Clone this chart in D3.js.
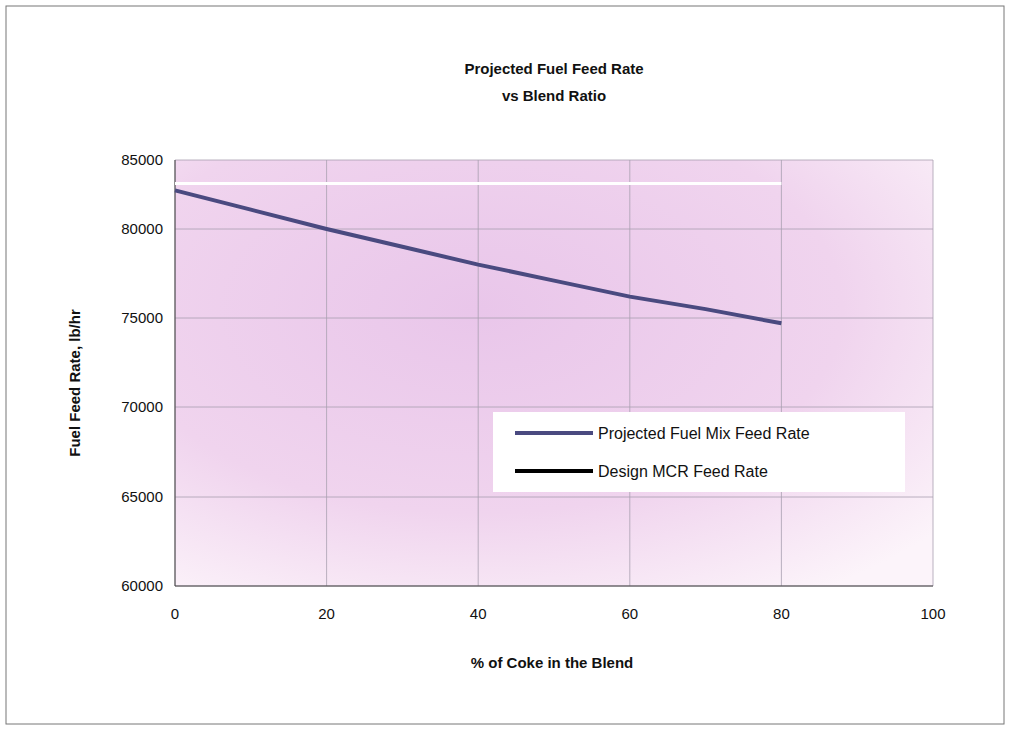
<!DOCTYPE html>
<html>
  <head>
    <meta charset="utf-8" />
    <script src="https://d3js.org/d3.v7.min.js"></script>
    <style>
      body { margin: 0; background: #fff; }
      text { font-family: "Liberation Sans", Arial, sans-serif; fill: #111; }
    </style>
  </head>
  <body>
    <div id="chart"></div>
    <script>
      const cokePct = [0, 10, 20, 30, 40, 50, 60, 70, 80];
      const projectedRate = [82800, 81400, 80000, 79000, 78000, 77100, 76200, 75500, 74700];
      const designRate = [83300, 83300, 83300, 83300, 83300, 83300, 83300, 83300, 83300];
      const xTicks = [0, 20, 40, 60, 80, 100];
      const yTicks = [60000, 65000, 70000, 75000, 80000, 85000];

      const width = 1013, height = 736;
      const plotLeft = 175, plotRight = 933, plotTop = 160, plotBottom = 586;

      const svg = d3.select("#chart").append("svg")
        .attr("width", width).attr("height", height);

      const defs = svg.append("defs");
      const grad = defs.append("radialGradient").attr("id", "bg")
        .attr("cx", "0.4").attr("cy", "0.35").attr("r", "0.8");
      grad.append("stop").attr("offset", "0").attr("stop-color", "#e9c6ea");
      grad.append("stop").attr("offset", "0.6").attr("stop-color", "#f0d4ee");
      grad.append("stop").attr("offset", "1").attr("stop-color", "#fcf4fa");

      svg.append("rect").attr("x", 6).attr("y", 6).attr("width", 998).attr("height", 718)
        .attr("fill", "#fff").attr("stroke", "#777");

      const x = d3.scaleLinear().domain([0, 100]).range([plotLeft, plotRight]);
      // the scanned axis is slightly uneven, so each tick is mapped to where it sits
      const y = d3.scaleLinear().domain(yTicks).range([586, 497, 407, 318, 229, 160]);

      svg.append("rect").attr("x", plotLeft).attr("y", plotTop)
        .attr("width", plotRight - plotLeft).attr("height", plotBottom - plotTop)
        .attr("fill", "url(#bg)");

      // grid
      svg.append("g").selectAll("line").data(yTicks).join("line")
        .attr("x1", plotLeft).attr("x2", plotRight)
        .attr("y1", d => y(d)).attr("y2", d => y(d))
        .attr("stroke", "#a8a0b0").attr("stroke-width", 0.8);
      svg.append("g").selectAll("line").data(xTicks).join("line")
        .attr("y1", plotTop).attr("y2", plotBottom)
        .attr("x1", d => x(d)).attr("x2", d => x(d))
        .attr("stroke", "#a8a0b0").attr("stroke-width", 0.8);

      svg.append("line").attr("x1", plotLeft).attr("x2", plotRight)
        .attr("y1", plotBottom).attr("y2", plotBottom).attr("stroke", "#444");
      svg.append("line").attr("x1", plotLeft).attr("x2", plotLeft)
        .attr("y1", plotTop).attr("y2", plotBottom).attr("stroke", "#444");

      svg.append("g").selectAll("text").data(yTicks).join("text")
        .attr("x", plotLeft - 12).attr("y", d => y(d) + 5)
        .attr("text-anchor", "end").attr("font-size", 15).text(d => d);
      svg.append("g").selectAll("text").data(xTicks).join("text")
        .attr("x", d => x(d)).attr("y", plotBottom + 33)
        .attr("text-anchor", "middle").attr("font-size", 15).text(d => d);

      const line = d3.line().x((d, i) => x(cokePct[i])).y(d => y(d));
      svg.append("path").datum(designRate).attr("d", line)
        .attr("fill", "none").attr("stroke", "#fff").attr("stroke-width", 3);
      svg.append("path").datum(projectedRate).attr("d", line)
        .attr("fill", "none").attr("stroke", "#4a4a80").attr("stroke-width", 4);

      // titles
      svg.append("text").attr("x", 554).attr("y", 74).attr("text-anchor", "middle")
        .attr("font-size", 15).attr("font-weight", "bold").text("Projected Fuel Feed Rate");
      svg.append("text").attr("x", 554).attr("y", 101).attr("text-anchor", "middle")
        .attr("font-size", 15).attr("font-weight", "bold").text("vs Blend Ratio");
      svg.append("text").attr("x", 552).attr("y", 668).attr("text-anchor", "middle")
        .attr("font-size", 15).attr("font-weight", "bold").text("% of Coke in the Blend");
      svg.append("text").attr("transform", `translate(80,${(plotTop + plotBottom) / 2 + 10}) rotate(-90)`)
        .attr("text-anchor", "middle").attr("font-size", 15).attr("font-weight", "bold")
        .text("Fuel Feed Rate, lb/hr");

      // legend
      const legend = [
        { name: "Projected Fuel Mix Feed Rate", color: "#4a4a80" },
        { name: "Design MCR Feed Rate", color: "#000" }
      ];
      const lg = svg.append("g");
      lg.append("rect").attr("x", 493).attr("y", 412).attr("width", 412).attr("height", 80)
        .attr("fill", "#fff");
      const items = lg.selectAll("g").data(legend).join("g")
        .attr("transform", (d, i) => `translate(515,${433 + i * 38})`);
      items.append("line").attr("x1", 0).attr("x2", 78).attr("y1", 0).attr("y2", 0)
        .attr("stroke", d => d.color).attr("stroke-width", 4);
      items.append("text").attr("x", 83).attr("y", 6).attr("font-size", 16).text(d => d.name);
    </script>
  </body>
</html>
